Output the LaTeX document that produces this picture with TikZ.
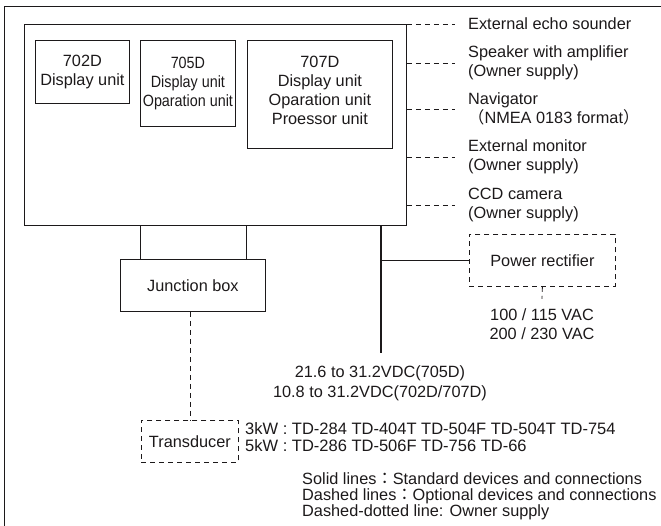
\documentclass[tikz,border=0pt]{standalone}
\usepackage{fontspec}
\setmainfont{Liberation Sans}
\newfontfamily\cjk{Noto Sans CJK JP}
\newfontfamily\condfont[FakeStretch=0.88]{Liberation Sans}
\definecolor{ink}{RGB}{28,25,26}
\begin{document}
\begin{tikzpicture}[x=1pt,y=-1pt,
  font=\fontsize{16.3}{19}\selectfont,
  box/.style={draw=ink, line width=0.8pt, inner sep=0pt, align=center, text=ink},
  dbox/.style={box, dash pattern=on 5pt off 4pt},
  sline/.style={draw=ink, line width=0.8pt},
  dline/.style={draw=ink, line width=0.8pt, dash pattern=on 5pt off 4pt},
  pline/.style={draw=ink, line width=1.7pt},
  lab/.style={text=ink, inner sep=0pt, align=left, anchor=west},
  ctext/.style={text=ink, inner sep=0pt, align=center}]
\useasboundingbox (0,0) rectangle (661,526);
% outer frame
\coordinate (f1) at (4,526);
\coordinate (f2) at (4,6);
\coordinate (f3) at (661,6);
\draw[sline] (f1) -- (f2) -- (f3);
% main box and units
\node[box, minimum width=382, minimum height=201, anchor=north west] (main) at (24,24) {};
\node[box, minimum width=94, minimum height=63, anchor=north west] (u702) at (35,40) {702D\\Display unit};
\node[box, minimum width=95, minimum height=86, anchor=north west,
      font=\condfont\fontsize{16.3}{19}\selectfont] (u705) at (140,40) {705D\\Display unit\\Oparation unit};
\node[box, minimum width=145, minimum height=108, anchor=north west] (u707) at (247,40) {707D\\Display unit\\Oparation unit\\Proessor unit\\[-10pt]};
% right side labels
\node[lab] (l1) at (468,24) {External echo sounder};
\node[lab] (l2) at (468,63) {Speaker with amplifier\\(Owner supply)};
\node[lab] (l3) at (468,109) {Navigator\\{\cjk （}NMEA 0183 format{\cjk ）}};
\node[lab] (l4) at (468,157) {External monitor\\(Owner supply)};
\node[lab] (l5) at (468,205) {CCD camera\\(Owner supply)};
\foreach \l in {l1,l2,l3,l4,l5}
  \draw[dline] (main.east |- \l.west) -- ([xshift=-13pt]\l.west);
% junction box and transducer
\node[box, minimum width=145, minimum height=52, anchor=north west] (jb) at (120,259) {Junction box};
\draw[sline] ([xshift=20pt]jb.north west) -- ([xshift=20pt]jb.north west |- main.south);
\draw[sline] ([xshift=-19pt]jb.north east) -- ([xshift=-19pt]jb.north east |- main.south);
\node[dbox, minimum width=97, minimum height=42, anchor=north west] (td) at (141,420) {Transducer};
\draw[dline] (td.north |- jb.south) -- (td.north);
\node[lab, font=\fontsize{16.5}{16.5}\selectfont] (tdl) at (245,437) {3kW : TD-284 TD-404T TD-504F TD-504T TD-754\\5kW : TD-286 TD-506F TD-756 TD-66};
% power
\coordinate (pend) at (381,353);
\draw[pline] (main.south -| pend) -- (pend);
\node[dbox, minimum width=146, minimum height=52, anchor=north west] (pr) at (469,234) {Power rectifier};
\draw[pline] (pr.west -| pend) -- (pr.west);
\node[ctext] (vac) at (542,324.5) {100 / 115 VAC\\200 / 230 VAC};
\draw[dline] (pr.south) -- ([yshift=10pt]vac.north);
\node[ctext, font=\fontsize{16.3}{20}\selectfont] (vdc) at (380,383) {21.6 to 31.2VDC(705D)\\10.8 to 31.2VDC(702D/707D)};
% legend
\node[lab, font=\fontsize{16.3}{16}\selectfont] (leg) at (302,496) {Solid lines{\cjk ：}Standard devices and connections\\Dashed lines{\cjk ：}Optional devices and connections\\Dashed-dotted line: Owner supply};
\end{tikzpicture}
\end{document}
